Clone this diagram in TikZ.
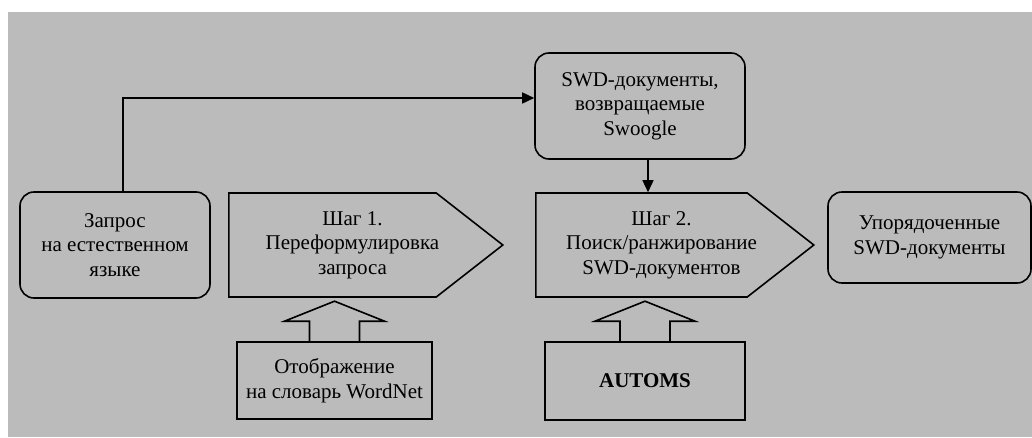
\documentclass[tikz,border=0pt]{standalone}
\usepackage{fontspec}
\setmainfont{Liberation Serif}
\usetikzlibrary{arrows.meta}
\usetikzlibrary{positioning,calc,shapes.symbols}
\definecolor{panelgray}{RGB}{187,187,187}
\tikzset{
    roundbox/.style={
        draw,
        rounded corners=14pt,
        align=center,
        inner sep=2pt
    },
    stepsign/.style={
        draw,
        signal,
        signal to=east,
        signal pointer angle=76,
        anchor=west,
        inner sep=2pt,
        minimum height=104pt
    },
    steptext/.style={
        align=center,
        xshift=20pt
    },
    sourcebox/.style={
        draw,
        align=center,
        inner sep=2pt
    },
    flow/.style={
        draw,
        -{Triangle[length=12pt, width=11pt]}
    }
}

\begin{document}
\begin{tikzpicture}[x=1pt, y=1pt, line width=1.6pt,
    every node/.style={font=\fontsize{21}{24.5}\selectfont}]
  % page and grey panel
  \useasboundingbox (0,0) rectangle (1032,437);
  \fill[white] (0,0) rectangle (1032,437);
  \fill[panelgray] (8,0) rectangle (1032,425);

  % upper row
  \node[roundbox, minimum width=190pt, minimum height=106pt] (query) at (115,192)
    {Запрос\\на естественном\\языке};
  \node[stepsign, minimum width=274pt,
    label={[steptext]center:{Шаг 1.\\Переформулировка\\запроса}}] (step1) at (228,192) {};
  \node[stepsign, minimum width=278pt,
    label={[steptext]center:{Шаг 2.\\Поиск/ранжирование\\SWD-документов}}] (step2) at (535,192) {};
  \node[roundbox, minimum width=203pt, minimum height=91pt] (result) at (929.5,199.5)
    {Упорядоченные\\SWD-документы};

  % Swoogle results
  \node[roundbox, minimum width=210pt, minimum height=106pt] (swd) at (640,331)
    {SWD-документы,\\возвращаемые\\Swoogle};

  % sources below the steps
  \node[sourcebox, minimum width=195pt, minimum height=77pt] (wordnet) at (334.5,56.5)
    {Отображение\\на словарь WordNet};
  \node[sourcebox, minimum width=200pt, minimum height=78pt] (automs) at (645,56)
    {\textbf{AUTOMS}};

  % connectors
  \draw[flow] ([xshift=8pt]query.north) |- ([yshift=8pt]swd.west);
  \draw[flow] ([xshift=8pt]swd.south) -- ([xshift=8pt]swd.south |- step2.north);

  % block arrows
  \draw ($(wordnet.north)+(-25,0)$) -- ++(0,20) -- ++(-25,0) -- ++(50,20)
    -- ++(50,-20) -- ++(-25,0) -- ++(0,-20);
  \draw ($(automs.north)+(-25,0)$) -- ++(0,20) -- ++(-25,0) -- ++(50,20)
    -- ++(50,-20) -- ++(-25,0) -- ++(0,-20);
\end{tikzpicture}
\end{document}
